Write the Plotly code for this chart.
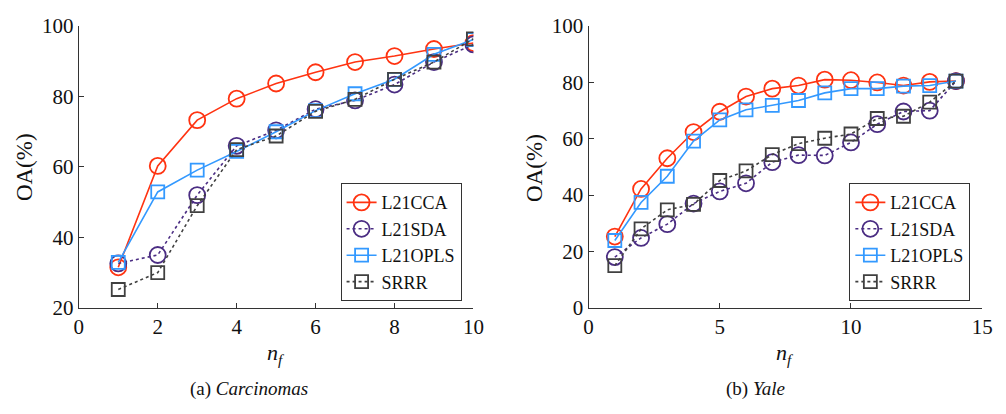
import plotly.graph_objects as go

# ---- data ----
series_names = ["L21CCA", "L21SDA", "L21OPLS", "SRRR"]

carc_x = [1, 2, 3, 4, 5, 6, 7, 8, 9, 10]
carc_l21cca = [31.5, 60.3, 73.3, 79.4, 83.7, 86.9, 89.8, 91.5, 93.5, 95.2]
carc_l21sda = [32.6, 35.0, 52.0, 66.0, 70.4, 76.4, 78.9, 83.4, 89.8, 94.8]
carc_l21opls = [32.9, 52.9, 59.1, 64.4, 70.0, 76.0, 80.8, 84.9, 92.0, 96.2]
carc_srrr = [25.2, 30.0, 49.0, 64.9, 68.8, 75.8, 79.2, 84.9, 89.8, 96.4]

yale_x = [1, 2, 3, 4, 5, 6, 7, 8, 9, 10, 11, 12, 13, 14]
yale_l21cca = [25.3, 42.2, 53.1, 62.4, 69.6, 75.0, 77.8, 78.9, 81.0, 80.8, 80.0, 78.9, 80.2, 80.5]
yale_l21sda = [18.0, 24.8, 29.7, 37.0, 41.3, 44.2, 51.7, 54.2, 54.1, 58.7, 65.2, 69.7, 70.0, 80.5]
yale_l21opls = [23.9, 37.4, 46.7, 59.2, 66.7, 70.3, 71.9, 73.6, 76.3, 77.8, 77.8, 78.7, 78.9, 80.5]
yale_srrr = [15.0, 28.0, 34.8, 36.7, 45.2, 48.6, 54.4, 58.3, 60.2, 61.7, 67.2, 68.0, 73.0, 80.5]

x_left_ticks = [0, 2, 4, 6, 8, 10]
x_right_ticks = [0, 5, 10, 15]
y_left_ticks = [20, 40, 60, 80, 100]
y_right_ticks = [0, 20, 40, 60, 80, 100]

# ---- styles ----
colors = {"L21CCA": "#FF3311", "L21SDA": "#4B2D83", "L21OPLS": "#3399FF", "SRRR": "#404040"}
dashes = {"L21CCA": "solid", "L21SDA": "dot", "L21OPLS": "solid", "SRRR": "dot"}
symbols = {"L21CCA": "circle-open", "L21SDA": "circle-open", "L21OPLS": "square-open", "SRRR": "square-open"}
sizes = {"L21CCA": 16, "L21SDA": 16, "L21OPLS": 13, "SRRR": 13}

W, H = 1006, 414
FONT = "Liberation Serif"
TXT = "#111111"

fig = go.Figure()

left = {"L21CCA": carc_l21cca, "L21SDA": carc_l21sda, "L21OPLS": carc_l21opls, "SRRR": carc_srrr}
right = {"L21CCA": yale_l21cca, "L21SDA": yale_l21sda, "L21OPLS": yale_l21opls, "SRRR": yale_srrr}

for name in series_names:
    fig.add_trace(go.Scatter(
        x=carc_x, y=left[name], name=name, mode="lines+markers",
        line=dict(color=colors[name], width=1.6, dash=dashes[name]),
        marker=dict(symbol=symbols[name], size=sizes[name], color=colors[name],
                    line=dict(width=1.8, color=colors[name])),
        xaxis="x", yaxis="y", legend="legend"))
for name in series_names:
    fig.add_trace(go.Scatter(
        x=yale_x, y=right[name], name=name, mode="lines+markers",
        line=dict(color=colors[name], width=1.6, dash=dashes[name]),
        marker=dict(symbol=symbols[name], size=sizes[name], color=colors[name],
                    line=dict(width=1.8, color=colors[name])),
        xaxis="x2", yaxis="y2", legend="legend2"))

ax_common = dict(showline=True, linecolor="#333333", linewidth=1, ticks="inside",
                 ticklen=5, tickcolor="#333333", showgrid=False, zeroline=False,
                 tickfont=dict(family=FONT, size=21, color=TXT), mirror=False)

ydom = [(H - 314) / H, (H - 15) / H]
leg_common = dict(xanchor="left", yanchor="bottom",
                  bordercolor="#333333", borderwidth=1, bgcolor="white",
                  font=dict(family=FONT, size=18, color=TXT), itemwidth=30,
                  tracegroupgap=0, itemsizing="trace")
fig.update_layout(
    width=W, height=H, margin=dict(l=0, r=0, t=0, b=0),
    paper_bgcolor="white", plot_bgcolor="white",
    font=dict(family=FONT, color=TXT, size=18),
    xaxis=dict(domain=[75 / W, 476 / W], range=[0, 10], tickvals=x_left_ticks, anchor="y", **ax_common),
    yaxis=dict(domain=ydom, range=[20, 100], tickvals=y_left_ticks, anchor="x", **ax_common),
    xaxis2=dict(domain=[593 / W, 993 / W], range=[0, 15], tickvals=x_right_ticks, anchor="y2", **ax_common),
    yaxis2=dict(domain=ydom, range=[0, 100], tickvals=y_right_ticks, anchor="x2", **ax_common),
    legend=dict(x=341 / W, y=1 - 307 / H, **leg_common),
    legend2=dict(x=858 / W, y=1 - 307 / H, **leg_common),
)

def ann(text, x, y, size, angle=0):
    fig.add_annotation(text=text, x=x / W, y=1 - y / H, xref="paper", yref="paper",
                       showarrow=False, textangle=angle,
                       font=dict(family=FONT, size=size, color=TXT),
                       xanchor="center", yanchor="middle")

ann("OA(%)", 20, 165, 23, -90)
ann("OA(%)", 538, 165, 23, -90)
ann("<i>n</i><sub><i>f</i></sub>", 275, 363, 22)
ann("<i>n</i><sub><i>f</i></sub>", 793, 363, 22)
ann("(a) <i>Carcinomas</i>", 248, 400, 19)
ann("(b) <i>Yale</i>", 763, 400, 19)

fig.write_html("out.html")
